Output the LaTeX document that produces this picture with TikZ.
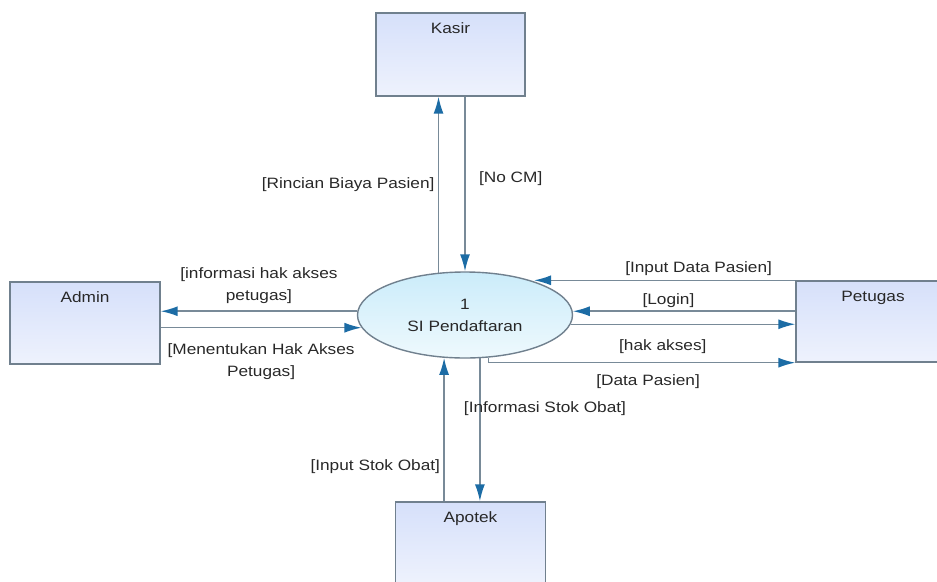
\documentclass[tikz,border=0pt]{standalone}
\usepackage{fontspec}
\setmainfont{Liberation Sans}[FakeStretch=1.15]
\usetikzlibrary{arrows.meta,shapes.geometric}

\definecolor{boxtop}{RGB}{214,224,250}
\definecolor{boxbot}{RGB}{238,242,253}
\definecolor{proctop}{RGB}{203,236,250}
\definecolor{procbot}{RGB}{238,249,253}
\definecolor{edgegray}{RGB}{112,128,142}
\definecolor{flowgray}{RGB}{120,138,152}
\definecolor{tipblue}{RGB}{28,108,165}
\definecolor{txtgray}{RGB}{40,40,40}

\begin{document}
\begin{tikzpicture}[
      x=1pt, y=-1pt,
      every node/.style={font=\fontsize{15}{22}\selectfont,text=txtgray},
      entity/.style={draw=edgegray,line width=1.4pt,top color=boxtop,bottom color=boxbot,
        minimum width=150pt,minimum height=82pt,inner sep=0pt,
        label={[anchor=north,inner sep=10.5pt]north:#1}},
      process/.style={ellipse,draw=edgegray,line width=1.4pt,top color=proctop,bottom color=procbot,
        minimum width=215pt,minimum height=86pt,inner sep=0pt,align=center},
      flow/.style={draw=flowgray,line width=1.5pt,-{Latex[length=17pt,width=10pt,color=tipblue]}}
    ]
      \useasboundingbox (0,0) rectangle (937,581);
      \clip (0,0) rectangle (937,581);
      \node[entity=Kasir,minimum width=149pt,minimum height=83pt] (kasir) at (450.5,54.5) {};
      \node[entity=Admin] (admin) at (85,323) {};
      \node[entity=Petugas,minimum width=154pt,minimum height=81pt] (petugas) at (873,321.5) {};
      \node[entity=Apotek] (apotek) at (470.5,543) {};
      \node[process] (proses) at (465,315) {1\\SI Pendaftaran};
      \draw[flow] (proses.122) -- (proses.122 |- kasir.south)
        node[midway,left] {[Rincian Biaya Pasien]};
      \draw[flow] (proses.north |- kasir.south) -- (proses.north)
        node[pos=0.47,right,xshift=10pt] {[No CM]};
      \draw[flow] (proses.178) -- (proses.178 -| admin.east)
        node[midway,above=4pt,align=center] {[informasi hak akses\\petugas]};
      \draw[flow] (proses.187 -| admin.east) -- (proses.187)
        node[midway,below=12pt,align=center] {[Menentukan Hak Akses\\Petugas]};
      \draw[flow] (petugas.north west) -- (proses.26 |- petugas.north west)
        node[pos=0.37,above=1pt] {[Input Data Pasien]};
      \draw[flow] (proses.2 -| petugas.west) -- (proses.2)
        node[pos=0.57,above] {[Login]};
      \draw[flow] (proses.-5) -- (proses.-5 -| petugas.west)
        node[pos=0.41,below=11pt] {[hak akses]};
      \draw[flow] (proses.-61) |- (petugas.south west)
        node[pos=0.76,below=8pt] {[Data Pasien]};
      \draw[flow] (proses.244 |- apotek.north) -- (proses.244)
        node[pos=0.24,left] {[Input Stok Obat]};
      \draw[flow] (proses.-71) -- (proses.-71 |- apotek.north)
        node[pos=0.35,right,xshift=-20pt] {[Informasi Stok Obat]};
    \end{tikzpicture}
\end{document}
